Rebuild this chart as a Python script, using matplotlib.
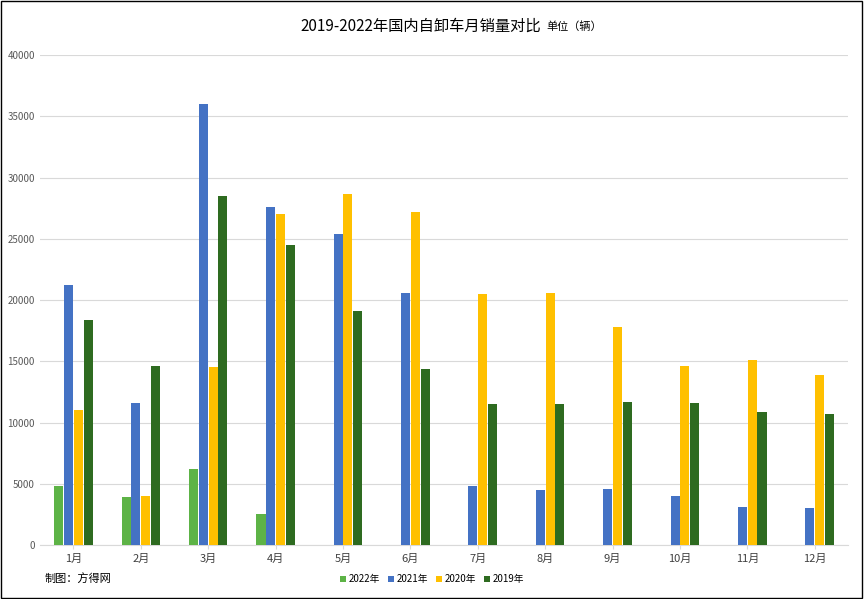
import numpy as np
import matplotlib
matplotlib.use("Agg")
import matplotlib.pyplot as plt

plt.rcParams["font.family"] = ["Noto Sans CJK SC", "DejaVu Sans"]

months = [f"{i}月" for i in range(1, 13)]
s2022 = [4800, 3900, 6200, 2500, 0, 0, 0, 0, 0, 0, 0, 0]
s2021 = [21200, 11600, 36000, 27600, 25400, 20600, 4800, 4500, 4600, 4000, 3100, 3000]
s2020 = [11000, 4000, 14500, 27000, 28700, 27200, 20500, 20600, 17800, 14600, 15100, 13900]
s2019 = [18400, 14600, 28500, 24500, 19100, 14400, 11500, 11500, 11700, 11600, 10900, 10700]

series = [("2022年", s2022, "#5DB346"), ("2021年", s2021, "#4472C4"),
          ("2020年", s2020, "#FFC000"), ("2019年", s2019, "#2E6B20")]

fig = plt.figure(figsize=(8.64, 5.99), dpi=100)
ax = fig.add_axes([0.046, 0.09, 0.936, 0.818])
x = np.arange(len(months))
w = 0.135
for i, (lab, vals, col) in enumerate(series):
    ax.bar(x + (i - 1.5) * (w + 0.01), vals, width=w, color=col, label=lab, zorder=3)

ax.set_xlim(-0.5, 11.5)
ax.set_ylim(0, 40000)
ax.set_yticks(range(0, 40001, 5000))
ax.tick_params(axis="y", labelsize=7, length=0, colors="#595959")
ax.set_xticks(x)
ax.set_xticklabels(months, fontsize=8, color="#404040")
ax.tick_params(axis="x", length=3, color="#d9d9d9")
ax.grid(axis="y", color="#d9d9d9", lw=0.8, zorder=0)
for s in ["top", "right", "left"]:
    ax.spines[s].set_visible(False)
ax.spines["bottom"].set_color("#d9d9d9")

fig.text(0.626, 0.957, "2019-2022年国内自卸车月销量对比", ha="right", va="center", fontsize=11)
fig.text(0.632, 0.955, "单位（辆）", ha="left", va="center", fontsize=8)
fig.text(0.052, 0.028, "制图：方得网", fontsize=8)
fig.legend(loc="lower center", bbox_to_anchor=(0.5, 0.01), ncol=4, frameon=False,
           fontsize=7, handlelength=0.6, handleheight=0.6, columnspacing=0.8, handletextpad=0.3)
fig.patches.append(plt.Rectangle((0.001, 0.002), 0.997, 0.996, transform=fig.transFigure,
                                 fill=False, ec="black", lw=1))
fig.savefig("out.png", dpi=100)
